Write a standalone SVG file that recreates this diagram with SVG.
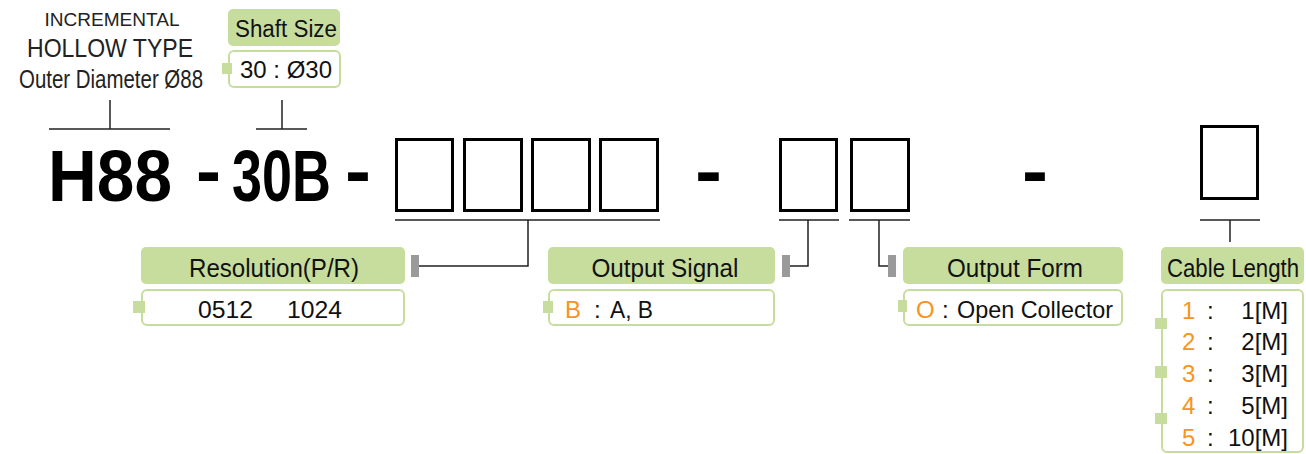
<svg xmlns="http://www.w3.org/2000/svg" width="1306" height="454" viewBox="0 0 1306 454">
<style>
text{font-family:"Liberation Sans",Arial,sans-serif;fill:#111}
.top{fill:#222}
.big{font-weight:bold;font-size:72px;fill:#000}
.lbl{font-size:25px;text-anchor:middle}
.val{font-size:24px}
.or{fill:#f7941d}
.hd{fill:#c6dd9e}
.vb{fill:#fff;stroke:#c6dd9e;stroke-width:2}
.sq{fill:#c6dd9e}
.bx{fill:none;stroke:#000;stroke-width:3}
.ln{fill:none;stroke:#222;stroke-width:1.5}
.gm{fill:#9a9a9a}
</style>
<rect width="1306" height="454" fill="#fff"/>

<g id="title">
<text class="top" x="112" y="26" font-size="18" text-anchor="middle" textLength="135" lengthAdjust="spacingAndGlyphs">INCREMENTAL</text>
<text class="top" x="110" y="57" font-size="25" text-anchor="middle" textLength="166" lengthAdjust="spacingAndGlyphs">HOLLOW TYPE</text>
<text class="top" x="111" y="88" font-size="25" text-anchor="middle" textLength="184" lengthAdjust="spacingAndGlyphs">Outer Diameter Ø88</text>
</g>

<g id="shaft-size">
<rect class="hd" x="228" y="9" width="112" height="37" rx="5"/>
<text x="286" y="37" font-size="23" text-anchor="middle" textLength="102" lengthAdjust="spacingAndGlyphs">Shaft Size</text>
<rect class="vb" x="229" y="51" width="111" height="36" rx="5"/>
<rect class="sq" x="222" y="63" width="10" height="11"/>
<text class="val" x="240" y="78" textLength="92" lengthAdjust="spacingAndGlyphs">30 : Ø30</text>
</g>

<g id="code">
<text class="big" x="48" y="201" textLength="124" lengthAdjust="spacingAndGlyphs">H88</text>
<text class="big" x="196" y="195" textLength="25" lengthAdjust="spacingAndGlyphs">-</text>
<text class="big" x="232" y="201" textLength="99" lengthAdjust="spacingAndGlyphs">30B</text>
<text class="big" x="345" y="195" textLength="26" lengthAdjust="spacingAndGlyphs">-</text>
<text class="big" x="695" y="195" textLength="27" lengthAdjust="spacingAndGlyphs">-</text>
<text class="big" x="1022" y="195" textLength="26" lengthAdjust="spacingAndGlyphs">-</text>
</g>

<g id="boxes">
<rect class="bx" x="396.5" y="139.5" width="56" height="71"/>
<rect class="bx" x="464.5" y="139.5" width="57" height="71"/>
<rect class="bx" x="532.5" y="139.5" width="57" height="71"/>
<rect class="bx" x="600.5" y="139.5" width="57" height="71"/>
<rect class="bx" x="780.5" y="139.5" width="56" height="71"/>
<rect class="bx" x="851.5" y="139.5" width="57" height="71"/>
<rect class="bx" x="1201.5" y="126.5" width="56" height="72"/>
</g>

<g id="connectors">
<path class="ln" d="M49 129H170M110 100V129"/>
<path class="ln" d="M256 129H307M282 100V129"/>
<path class="ln" d="M395 220H660M528 220V266H419"/>
<path class="ln" d="M779 220H839M808 220V266H790"/>
<path class="ln" d="M849 220H910M879 220V266H888"/>
<path class="ln" d="M1200 220H1260M1230 220V242"/>
<rect class="gm" x="411" y="255" width="8" height="22"/>
<rect class="gm" x="782" y="255" width="8" height="22"/>
<rect class="gm" x="888" y="255" width="8" height="22"/>
</g>

<g id="resolution">
<rect class="hd" x="141" y="247" width="264" height="37" rx="5"/>
<text class="lbl" x="274" y="277" textLength="170" lengthAdjust="spacingAndGlyphs">Resolution(P/R)</text>
<rect class="vb" x="142" y="290" width="262" height="35" rx="5"/>
<rect class="sq" x="133" y="301" width="12" height="12"/>
<text class="val" x="198" y="318" textLength="55" lengthAdjust="spacingAndGlyphs">0512</text>
<text class="val" x="287" y="318" textLength="55" lengthAdjust="spacingAndGlyphs">1024</text>
</g>

<g id="output-signal">
<rect class="hd" x="548" y="247" width="227" height="37" rx="5"/>
<text class="lbl" x="665" y="277" textLength="147" lengthAdjust="spacingAndGlyphs">Output Signal</text>
<rect class="vb" x="549" y="290" width="225" height="35" rx="5"/>
<rect class="sq" x="543" y="301" width="10" height="12"/>
<text class="val or" x="565" y="318">B</text>
<text class="val" x="594" y="318">:</text>
<text class="val" x="610" y="318" textLength="43" lengthAdjust="spacingAndGlyphs">A, B</text>
</g>

<g id="output-form">
<rect class="hd" x="903" y="247" width="220" height="37" rx="5"/>
<text class="lbl" x="1015" y="277" textLength="136" lengthAdjust="spacingAndGlyphs">Output Form</text>
<rect class="vb" x="904" y="290" width="218" height="35" rx="5"/>
<rect class="sq" x="898" y="300" width="9" height="12"/>
<text class="val or" x="916" y="318">O</text>
<text class="val" x="942" y="318">:</text>
<text class="val" x="957" y="318" textLength="156" lengthAdjust="spacingAndGlyphs">Open Collector</text>
</g>

<g id="cable-length">
<rect class="hd" x="1161" y="247" width="143" height="37" rx="5"/>
<text class="lbl" x="1233" y="277" textLength="132" lengthAdjust="spacingAndGlyphs">Cable Length</text>
<rect class="vb" x="1162" y="290" width="141" height="162" rx="5"/>
<rect class="sq" x="1155" y="318" width="12" height="11"/>
<rect class="sq" x="1155" y="366" width="12" height="12"/>
<rect class="sq" x="1155" y="413" width="12" height="11"/>
<text class="val or" x="1182" y="319">1</text><text class="val" x="1207" y="319">:</text><text class="val" x="1288" y="319" text-anchor="end">1[M]</text>
<text class="val or" x="1182" y="350">2</text><text class="val" x="1207" y="350">:</text><text class="val" x="1288" y="350" text-anchor="end">2[M]</text>
<text class="val or" x="1182" y="382">3</text><text class="val" x="1207" y="382">:</text><text class="val" x="1288" y="382" text-anchor="end">3[M]</text>
<text class="val or" x="1182" y="414">4</text><text class="val" x="1207" y="414">:</text><text class="val" x="1288" y="414" text-anchor="end">5[M]</text>
<text class="val or" x="1182" y="446">5</text><text class="val" x="1207" y="446">:</text><text class="val" x="1288" y="446" text-anchor="end">10[M]</text>
</g>
</svg>
